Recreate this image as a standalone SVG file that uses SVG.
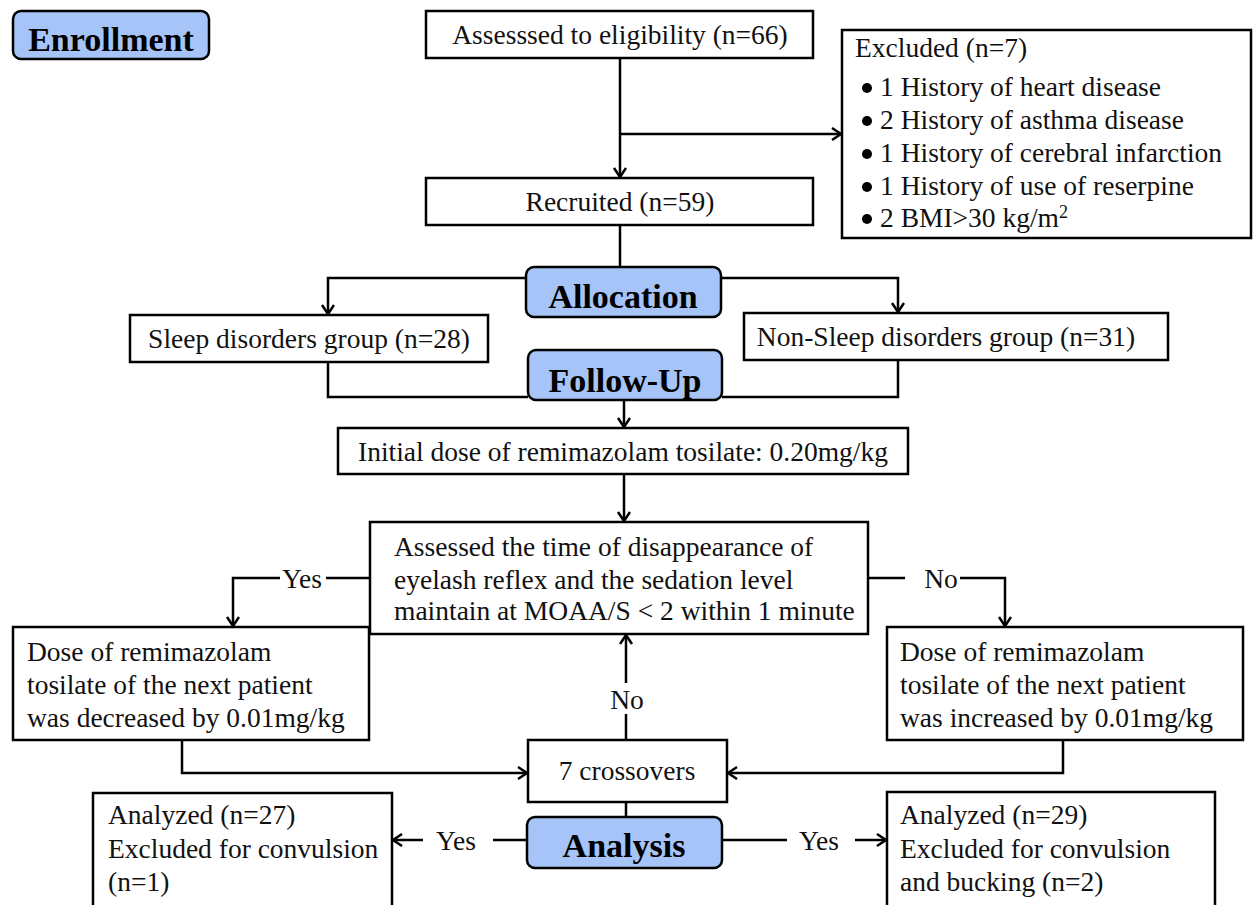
<svg xmlns="http://www.w3.org/2000/svg" width="1254" height="905" viewBox="0 0 1254 905">
<style>
.box{fill:#fff;stroke:#000;stroke-width:2.5}
.hd{fill:#a6c4f7;stroke:#000;stroke-width:2.5}
.t{font-family:"Liberation Serif","Times New Roman",serif;font-size:27.5px;fill:#111}
.h{font-family:"Liberation Serif","Times New Roman",serif;font-size:34px;font-weight:bold;fill:#000;text-anchor:middle}
.c{text-anchor:middle}
.ln{fill:none;stroke:#000;stroke-width:2.5}
.ar{marker-end:url(#arr)}
</style>
<defs>
<marker id="arr" markerUnits="userSpaceOnUse" markerWidth="14" markerHeight="16" refX="10" refY="7" orient="auto">
<path d="M1,1 L10,7 L1,13" fill="none" stroke="#000" stroke-width="2.5"/>
</marker>
</defs>
<rect width="1254" height="905" fill="#fff"/>

<g id="enrollment"><rect class="hd" x="13" y="11" width="196" height="48" rx="8"/><text class="h" x="111" y="51">Enrollment</text></g>
<g id="assessed"><rect class="box" x="426" y="11" width="387" height="47"/><text class="t c" x="620" y="44">Assesssed to eligibility (n=66)</text></g>
<g id="recruited"><rect class="box" x="426" y="178" width="387" height="47"/><text class="t c" x="620" y="211">Recruited (n=59)</text></g>
<g id="excluded"><rect class="box" x="842" y="30" width="409" height="208"/>
<text class="t" x="855" y="57">Excluded (n=7)</text>
<circle cx="867" cy="88" r="5" fill="#000"/><text class="t" x="880" y="96">1 History of heart disease</text>
<circle cx="867" cy="121" r="5" fill="#000"/><text class="t" x="880" y="129">2 History of asthma disease</text>
<circle cx="867" cy="154" r="5" fill="#000"/><text class="t" x="880" y="162">1 History of cerebral infarction</text>
<circle cx="867" cy="187" r="5" fill="#000"/><text class="t" x="880" y="195">1 History of use of reserpine</text>
<circle cx="867" cy="219" r="5" fill="#000"/><text class="t" x="880" y="227">2 BMI&gt;30 kg/m<tspan font-size="18" dy="-9">2</tspan></text>
</g>
<g id="allocation"><rect class="hd" x="526" y="267" width="195" height="50" rx="8"/><text class="h" x="623" y="308">Allocation</text></g>
<g id="sleep"><rect class="box" x="130" y="315" width="358" height="47"/><text class="t c" x="309" y="348">Sleep disorders group (n=28)</text></g>
<g id="nonsleep"><rect class="box" x="744" y="313" width="424" height="47"/><text class="t c" x="946" y="346">Non-Sleep disorders group (n=31)</text></g>
<g id="followup"><rect class="hd" x="528" y="350" width="194" height="50" rx="8"/><text class="h" x="625" y="392">Follow-Up</text></g>
<g id="initial"><rect class="box" x="338" y="428" width="570" height="46"/><text class="t c" x="623" y="461">Initial dose of remimazolam tosilate: 0.20mg/kg</text></g>
<g id="decision"><rect class="box" x="370" y="522" width="498" height="112"/>
<text class="t" x="394" y="556">Assessed the time of disappearance of</text>
<text class="t" x="394" y="589">eyelash reflex and the sedation level</text>
<text class="t" x="394" y="620">maintain at MOAA/S &lt; 2 within 1 minute</text></g>
<g id="decrease"><rect class="box" x="13" y="627" width="356" height="113"/>
<text class="t" x="27" y="661">Dose of remimazolam</text>
<text class="t" x="27" y="694">tosilate of the next patient</text>
<text class="t" x="27" y="727">was decreased by 0.01mg/kg</text></g>
<g id="increase"><rect class="box" x="887" y="627" width="356" height="113"/>
<text class="t" x="900" y="661">Dose of remimazolam</text>
<text class="t" x="900" y="694">tosilate of the next patient</text>
<text class="t" x="900" y="727">was increased by 0.01mg/kg</text></g>
<g id="crossovers"><rect class="box" x="528" y="740" width="199" height="62"/><text class="t c" x="627" y="780">7 crossovers</text></g>
<g id="analysis"><rect class="hd" x="527" y="817" width="195" height="51" rx="8"/><text class="h" x="624" y="857">Analysis</text></g>
<g id="analyzedL"><rect class="box" x="93" y="793" width="299" height="120"/>
<text class="t" x="108" y="824">Analyzed (n=27)</text>
<text class="t" x="108" y="858">Excluded for convulsion</text>
<text class="t" x="108" y="891">(n=1)</text></g>
<g id="analyzedR"><rect class="box" x="887" y="792" width="328" height="120"/>
<text class="t" x="900" y="824">Analyzed (n=29)</text>
<text class="t" x="900" y="858">Excluded for convulsion</text>
<text class="t" x="900" y="891">and bucking (n=2)</text></g>

<g id="connectors">
<path class="ln ar" d="M620,58 V177"/>
<path class="ln ar" d="M620,134 H841"/>
<path class="ln" d="M620,225 V267"/>
<path class="ln ar" d="M526,278 H328 V314"/>
<path class="ln ar" d="M721,278 H898 V312"/>
<path class="ln" d="M328,362 V397 H528"/>
<path class="ln" d="M898,360 V397 H722"/>
<path class="ln ar" d="M624,400 V427"/>
<path class="ln ar" d="M624,474 V521"/>
<path class="ln" d="M370,578 H326"/>
<text class="t c" x="302" y="588">Yes</text>
<path class="ln ar" d="M280,578 H233 V626"/>
<path class="ln" d="M868,578 H905"/>
<text class="t c" x="941" y="588">No</text>
<path class="ln ar" d="M960,578 H1005 V626"/>
<path class="ln ar" d="M182,740 V773 H527"/>
<path class="ln ar" d="M1063,740 V773 H728"/>
<path class="ln" d="M626,740 V714"/>
<text class="t c" x="627" y="709">No</text>
<path class="ln ar" d="M626,683 V635"/>
<path class="ln" d="M626,802 V817"/>
<path class="ln" d="M527,840 H493"/>
<text class="t c" x="456" y="850">Yes</text>
<path class="ln ar" d="M423,840 H393"/>
<path class="ln" d="M722,840 H787"/>
<text class="t c" x="819" y="850">Yes</text>
<path class="ln ar" d="M855,840 H886"/>
</g>
</svg>
